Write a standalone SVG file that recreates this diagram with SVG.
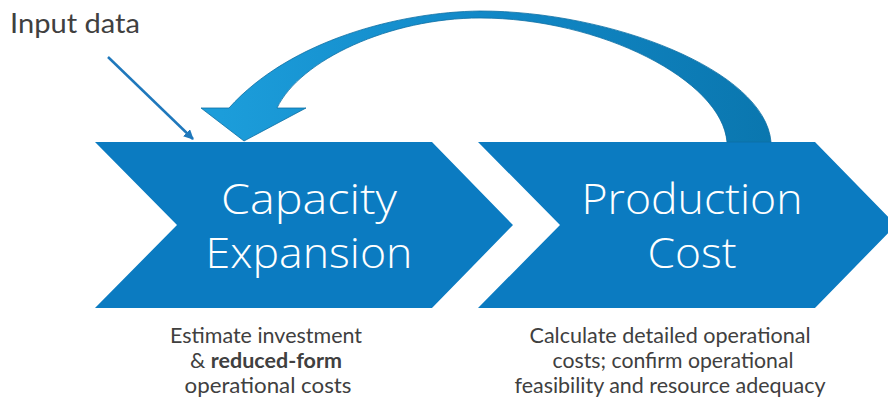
<svg xmlns="http://www.w3.org/2000/svg" width="888" height="402" viewBox="0 0 888 402">
<defs>
<style>
.chev{fill:#0B7BC1;}
.big{font-family:"Open Sans","Lato",sans-serif;font-weight:300;font-size:42px;fill:#FFFFFF;text-anchor:middle;}
.cap{font-family:"Lato","Open Sans",sans-serif;font-size:21px;fill:#404040;text-anchor:middle;}
.lbl{font-family:"Lato","Open Sans",sans-serif;font-size:27px;fill:#404040;}
</style>
<linearGradient id="arcGrad" x1="220" y1="0" x2="780" y2="0" gradientUnits="userSpaceOnUse">
<stop offset="0" stop-color="#1C9DDA"/>
<stop offset="0.45" stop-color="#1289C8"/>
<stop offset="1" stop-color="#0A76AE"/>
</linearGradient>
<marker id="thinHead" viewBox="0 0 10 10" refX="9" refY="5" markerWidth="4" markerHeight="4" orient="auto" markerUnits="strokeWidth">
<path d="M0,0 L10,5 L0,10 z" fill="#1F78BC"/>
</marker>
</defs>
<rect width="888" height="402" fill="#FFFFFF"/>
<g id="capacity-expansion">
<polygon class="chev" points="95,142 432,142 513,225 432,308 95,308 177,225"/>
<text class="big" x="309" y="214" textLength="176" lengthAdjust="spacingAndGlyphs">Capacity</text>
<text class="big" x="309" y="268" textLength="207" lengthAdjust="spacingAndGlyphs">Expansion</text>
<text class="cap" x="266" y="343" textLength="192" lengthAdjust="spacingAndGlyphs">Estimate investment</text>
<text class="cap" x="266" y="368" textLength="152" lengthAdjust="spacingAndGlyphs">&amp; <tspan font-weight="bold">reduced-form</tspan></text>
<text class="cap" x="268" y="393" textLength="167" lengthAdjust="spacingAndGlyphs">operational costs</text>
</g>
<g id="production-cost">
<polygon class="chev" points="478,142 815,142 896,225 815,308 478,308 560,225"/>
<text class="big" x="692" y="214" textLength="221" lengthAdjust="spacingAndGlyphs">Production</text>
<text class="big" x="692" y="268" textLength="89" lengthAdjust="spacingAndGlyphs">Cost</text>
<text class="cap" x="670" y="343" textLength="281" lengthAdjust="spacingAndGlyphs">Calculate detailed operational</text>
<text class="cap" x="673" y="368" textLength="241" lengthAdjust="spacingAndGlyphs">costs; confirm operational</text>
<text class="cap" x="670" y="393" textLength="311" lengthAdjust="spacingAndGlyphs">feasibility and resource adequacy</text>
</g>
<g id="input-data">
<text class="lbl" x="10" y="33" textLength="130" lengthAdjust="spacingAndGlyphs">Input data</text>
</g>
<g id="connectors">
<line x1="108" y1="57" x2="193" y2="139" stroke="#1F78BC" stroke-width="2.5" marker-end="url(#thinHead)"/>
<path d="M244,141 L201,108 L229,108 C290,40 400,12 480,11 C610,11 765,70 771,142 L727,142 C722,80 600,18 480,18 C390,18 300,60 277,108 L306,108 Z" fill="url(#arcGrad)" stroke="#0D6FA3" stroke-width="0.8"/>
</g>
</svg>
